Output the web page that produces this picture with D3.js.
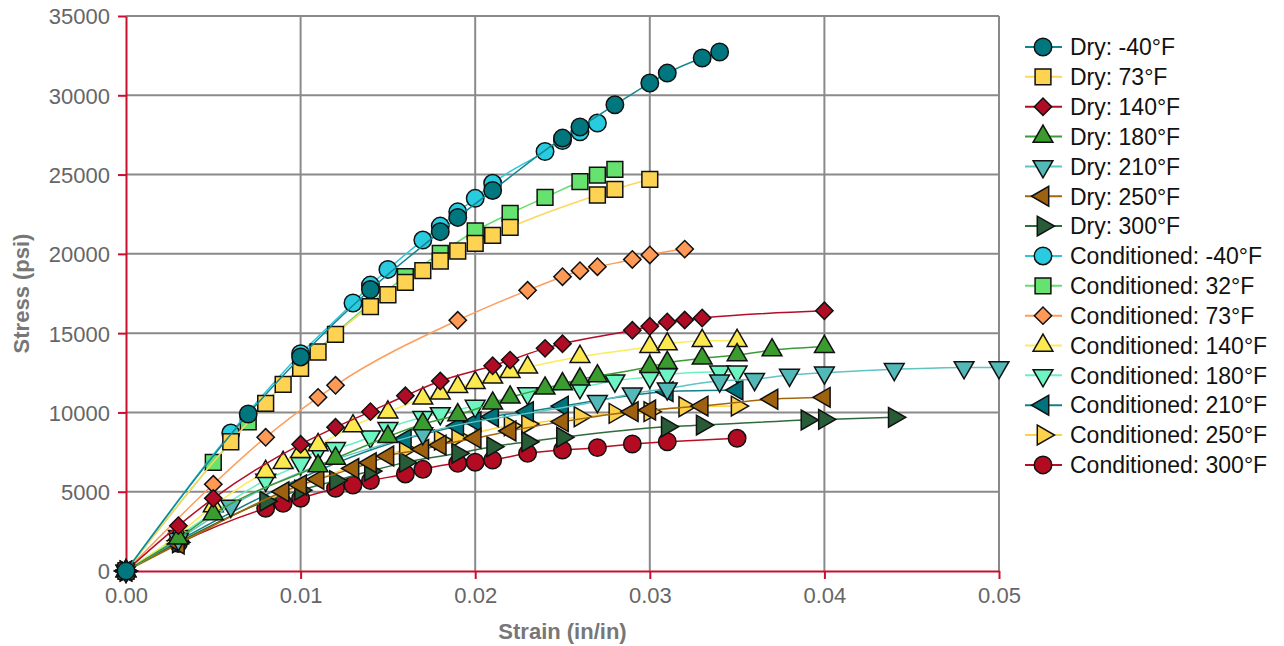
<!DOCTYPE html>
<html><head><meta charset="utf-8">
<script src="https://cdn.jsdelivr.net/npm/d3@7"></script>
<style>
html,body{margin:0;padding:0;background:#fff;}
svg{display:block;font-family:"Liberation Sans",Arial,sans-serif;}
</style></head>
<body>
<svg id="chart" width="1284" height="646"></svg>
<script>
// ---------- data ----------
const seriesNames = ["Dry: -40°F","Dry: 73°F","Dry: 140°F","Dry: 180°F","Dry: 210°F","Dry: 250°F","Dry: 300°F",
  "Conditioned: -40°F","Conditioned: 32°F","Conditioned: 73°F","Conditioned: 140°F","Conditioned: 180°F",
  "Conditioned: 210°F","Conditioned: 250°F","Conditioned: 300°F"];

const dryM40 = [[0,0],[0.007,9900],[0.010,13500],[0.014,17750],[0.018,21400],[0.019,22300],[0.021,24000],[0.025,27300],[0.026,28000],[0.028,29400],[0.030,30770],[0.031,31400],[0.033,32350],[0.034,32730]];
const dry73 = [[0,0],[0.006,8150],[0.008,10570],[0.009,11770],[0.010,12780],[0.011,13810],[0.012,14920],[0.014,16670],[0.015,17420],[0.016,18200],[0.017,18940],[0.018,19550],[0.019,20180],[0.020,20660],[0.021,21170],[0.022,21670],[0.027,23710],[0.028,24070],[0.030,24700]];
const dry140 = [[0,0],[0.003,2860],[0.005,4580],[0.010,7990],[0.012,9060],[0.014,10050],[0.016,11050],[0.018,11980],[0.021,12940],[0.022,13300],[0.024,14040],[0.025,14330],[0.029,15180],[0.030,15430],[0.031,15710],[0.032,15830],[0.033,15950],[0.040,16410]];
const dry180 = [[0,0],[0.003,2060],[0.005,3600],[0.011,6620],[0.012,7100],[0.015,8470],[0.017,9270],[0.019,9840],[0.021,10570],[0.022,10950],[0.024,11520],[0.025,11790],[0.026,12090],[0.027,12290],[0.030,12880],[0.031,13130],[0.033,13410],[0.035,13620],[0.037,13930],[0.040,14140]];
const dry210 = [[0,0],[0.003,2000],[0.006,4100],[0.017,8680],[0.027,10700],[0.029,11180],[0.031,11500],[0.034,12000],[0.036,12090],[0.038,12360],[0.040,12500],[0.044,12720],[0.048,12840],[0.050,12840]];
const dry250 = [[0,0],[0.003,1700],[0.009,5000],[0.010,5420],[0.011,5780],[0.013,6470],[0.014,6830],[0.015,7250],[0.017,7670],[0.018,7940],[0.020,8370],[0.022,8830],[0.025,9420],[0.029,10050],[0.030,10150],[0.033,10400],[0.037,10830],[0.040,10950]];
const dry300 = [[0,0],[0.003,1800],[0.008,4400],[0.010,5100],[0.012,5700],[0.014,6300],[0.016,6850],[0.019,7420],[0.021,7840],[0.023,8150],[0.025,8430],[0.031,9100],[0.033,9200],[0.039,9520],[0.040,9560],[0.044,9690]];
const condM40 = [[0,0],[0.006,8700],[0.010,13700],[0.013,16900],[0.014,18030],[0.015,19020],[0.017,20870],[0.018,21750],[0.019,22650],[0.020,23500],[0.021,24450],[0.024,26450],[0.025,27150],[0.026,27700],[0.027,28250]];
const cond32 = [[0,0],[0.005,6850],[0.007,9400],[0.016,18560],[0.018,20030],[0.020,21440],[0.022,22550],[0.024,23560],[0.026,24550],[0.027,24970],[0.028,25330]];
const cond73 = [[0,0],[0.005,5470],[0.008,8430],[0.011,10950],[0.012,11710],[0.019,15810],[0.023,17700],[0.025,18560],[0.026,18940],[0.027,19190],[0.029,19650],[0.030,19930],[0.032,20300]];
const cond140 = [[0,0],[0.003,2300],[0.005,4100],[0.008,6260],[0.009,6830],[0.010,7520],[0.011,7950],[0.013,9140],[0.015,10010],[0.017,10890],[0.018,11200],[0.019,11620],[0.020,11870],[0.021,12210],[0.022,12570],[0.023,12840],[0.026,13510],[0.030,14140],[0.031,14310],[0.033,14520],[0.035,14520]];
const cond180 = [[0,0],[0.003,2200],[0.008,5740],[0.010,6790],[0.011,7630],[0.012,7740],[0.014,8470],[0.015,9000],[0.017,9690],[0.018,9940],[0.020,10400],[0.023,11200],[0.026,11580],[0.028,12000],[0.030,12250],[0.031,12400],[0.034,12570],[0.035,12570]];
const cond210 = [[0,0],[0.003,1900],[0.016,8330],[0.019,9140],[0.020,9420],[0.021,9730],[0.023,10050],[0.025,10400],[0.031,11310],[0.035,11410]];
const cond250 = [[0,0],[0.003,1800],[0.016,7670],[0.018,8260],[0.019,8470],[0.022,9160],[0.023,9270],[0.026,9730],[0.028,9940],[0.030,10050],[0.032,10360],[0.035,10400]];
const cond300 = [[0,0],[0.003,1740],[0.008,3950],[0.009,4270],[0.010,4580],[0.012,5220],[0.013,5420],[0.014,5700],[0.016,6120],[0.017,6410],[0.019,6790],[0.020,6860],[0.021,7000],[0.023,7420],[0.025,7630],[0.027,7780],[0.029,8010],[0.031,8150],[0.035,8370]];

const seriesData = [dryM40,dry73,dry140,dry180,dry210,dry250,dry300,condM40,cond32,cond73,cond140,cond180,cond210,cond250,cond300];

const xTicks = [0,0.01,0.02,0.03,0.04,0.05];
const yTicks = [0,5000,10000,15000,20000,25000,30000,35000];

// ---------- styles ----------
const fillColors = ["#00767e","#fed352","#b10c25","#3a9b2e","#53b8b8","#9e6110","#275c37",
  "#28cbe0","#66e36f","#fe9a56","#fce84f","#6cf5c3","#00747c","#fdd24a","#b30b22"];
const lineColors = ["#13868f","#fdd65c","#b30d28","#3d9b35","#5ec4c4","#a3660f","#2f6b3c",
  "#2fc6dc","#66dd6e","#fd9d5a","#fcec5a","#6df0c0","#157f88","#fcd443","#b80d22"];
const shapes = ["circle","square","diamond","up","down","left","right",
  "circle","square","diamond","up","down","left","right","circle"];

// ---------- layout ----------
const svg = d3.select("#chart");
const L = 126, R = 999, T = 16, B = 571;
const x = d3.scaleLinear().domain([0,0.05]).range([L,R]);
const y = d3.scaleLinear().domain([0,35000]).range([B,T]);
const font = '"Liberation Sans",Arial,sans-serif';

// grid
const grid = svg.append("g");
grid.selectAll("line.v").data(xTicks.slice(1)).join("line")
  .attr("x1",d=>x(d)).attr("x2",d=>x(d)).attr("y1",T).attr("y2",B)
  .attr("stroke","#8a8a8a").attr("stroke-width",2);
grid.selectAll("line.h").data(yTicks.slice(1)).join("line")
  .attr("x1",L).attr("x2",R).attr("y1",d=>y(d)).attr("y2",d=>y(d))
  .attr("stroke","#8a8a8a").attr("stroke-width",2);

// axes
const red = "#c8102e";
const xAxis = svg.append("g").attr("transform",`translate(0,${B})`)
  .call(d3.axisBottom(x).tickValues(xTicks).tickFormat(d3.format(".2f")).tickSizeOuter(0).tickSizeInner(8).tickPadding(8));
const yAxis = svg.append("g").attr("transform",`translate(${L},0)`)
  .call(d3.axisLeft(y).tickValues(yTicks).tickFormat(d=>String(d)).tickSizeOuter(0).tickSizeInner(8).tickPadding(8));
[xAxis,yAxis].forEach(a=>{
  a.select(".domain").attr("stroke",red).attr("stroke-width",2);
  a.selectAll(".tick line").attr("stroke",red).attr("stroke-width",2);
  a.selectAll(".tick text").attr("fill","#666").style("font-size","22px").style("font-family",font);
});
yAxis.selectAll(".tick text").attr("dy","0.36em");

// titles
svg.append("text").attr("x",(L+R)/2).attr("y",639).attr("text-anchor","middle")
  .attr("fill","#777").style("font-size","22px").style("font-weight","bold").style("font-family",font)
  .text("Strain (in/in)");
svg.append("text").attr("transform",`translate(29,${(T+B)/2}) rotate(-90)`).attr("text-anchor","middle")
  .attr("fill","#777").style("font-size","22px").style("font-weight","bold").style("font-family",font)
  .text("Stress (psi)");

// symbols
function symPath(shape){
  if(shape==="circle") return d3.symbol().type(d3.symbolCircle).size(240)();
  if(shape==="square") return d3.symbol().type(d3.symbolSquare).size(250)();
  if(shape==="diamond") return d3.symbol().type(d3.symbolSquare).size(150)();
  return d3.symbol().type(d3.symbolTriangle).size(170)();
}
function symRot(shape){
  return {diamond:45, up:0, down:180, left:-90, right:90}[shape] || 0;
}

const line = d3.line().x(d=>x(d[0])).y(d=>y(d[1])).curve(d3.curveMonotoneX);

// drawing order: last legend entry first, first legend entry on top
const order = d3.range(seriesData.length).reverse();
const plot = svg.append("g");
order.forEach(i=>{
  const g = plot.append("g");
  g.append("path").datum(seriesData[i]).attr("d",line)
    .attr("fill","none").attr("stroke",lineColors[i]).attr("stroke-width",1.5);
  g.selectAll("path.m").data(seriesData[i]).join("path").attr("class","m")
    .attr("d",symPath(shapes[i]))
    .attr("transform",d=>`translate(${x(d[0])},${y(d[1])}) rotate(${symRot(shapes[i])})`)
    .attr("fill",fillColors[i]).attr("stroke","#111").attr("stroke-width",1.5);
});

// legend
const leg = svg.append("g");
seriesNames.forEach((name,i)=>{
  const cy = 47 + i*29.85;
  const g = leg.append("g").attr("transform",`translate(0,${cy})`);
  g.append("line").attr("x1",1025).attr("x2",1062).attr("y1",0).attr("y2",0)
    .attr("stroke",lineColors[i]).attr("stroke-width",2);
  g.append("path").attr("d",symPath(shapes[i]))
    .attr("transform",`translate(1043,0) rotate(${symRot(shapes[i])})`)
    .attr("fill",fillColors[i]).attr("stroke","#111").attr("stroke-width",1.5);
  g.append("text").attr("x",1070).attr("y",0).attr("dy","0.36em")
    .attr("fill","#111").style("font-size","23px").style("font-family",font).text(name);
});
</script>
</body></html>
